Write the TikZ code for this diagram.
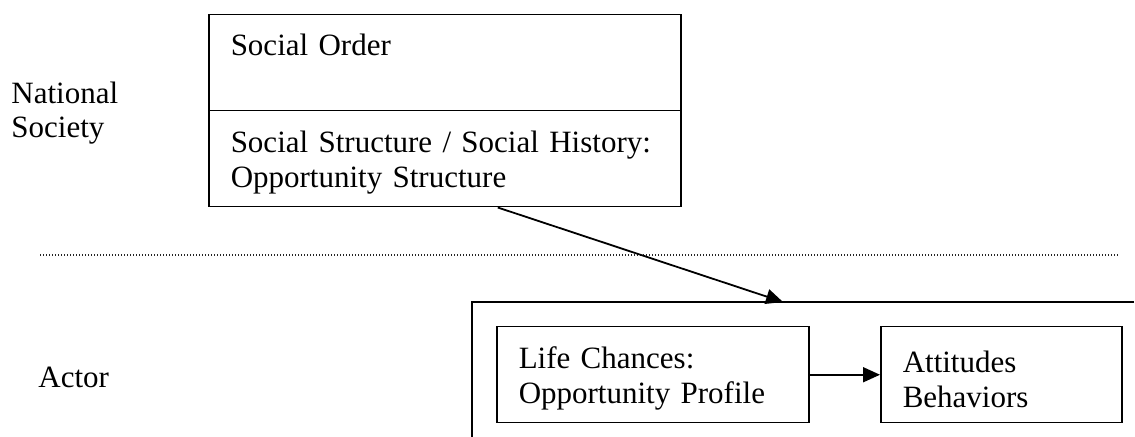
\documentclass[tikz,border=0pt]{standalone}
\usepackage{fontspec}
\setmainfont{Liberation Serif}
\usepackage{tikz}
\usetikzlibrary{arrows.meta, positioning}

\begin{document}
\begin{tikzpicture}[
    x=0.5pt, y=-0.5pt,
    box/.style={rectangle, draw, line width=0.75pt, anchor=north west, inner xsep=11pt, inner ysep=0pt, align=left, font=\fontsize{15.5pt}{17.5pt}\selectfont},
    twoline/.style={box, minimum height=48pt, execute at begin node={\rule{0pt}{15pt}}},
    side/.style={inner sep=0pt, align=left, font=\fontsize{15.5pt}{17pt}\selectfont},
    arr/.style={-{Triangle[length=8.5pt, width=7.5pt]}, line width=0.9pt},
    frame/.style={line width=0.75pt},
    sep/.style={line width=0.6pt, black!85, dash pattern=on 0.5pt off 1pt}
]
\useasboundingbox (0,0) rectangle (1135,437);

% National society level
\node[box, text width=214pt, text height=20.5pt, text depth=27.5pt] (order) at (208,14) {Social Order};
\node[twoline, text width=214pt] (struct) at (208,110) {Social Structure / Social History:\\Opportunity Structure};
\node[side, anchor=west] (nat) at (11,113) {National\\Society};

% Level separator
\coordinate (sepl) at (40,255);
\coordinate (sepr) at (1118,255);
\draw[sep] (sepl) -- (sepr);

% Actor level
\coordinate (actin) at (783,302);
\draw[frame] (1134,302) -| (472,437);
\node[twoline, text width=134pt] (life) at (496,326) {Life Chances:\\Opportunity Profile};
\node[twoline, text width=98.5pt] (att) at (880,326) {Attitudes\\Behaviors};
\node[side, anchor=base west] (actor) at (38,388) {Actor};

\draw[arr] ([xshift=26.5pt]struct.south) -- (actin);
\draw[arr] (life) -- (att);
\end{tikzpicture}
\end{document}
